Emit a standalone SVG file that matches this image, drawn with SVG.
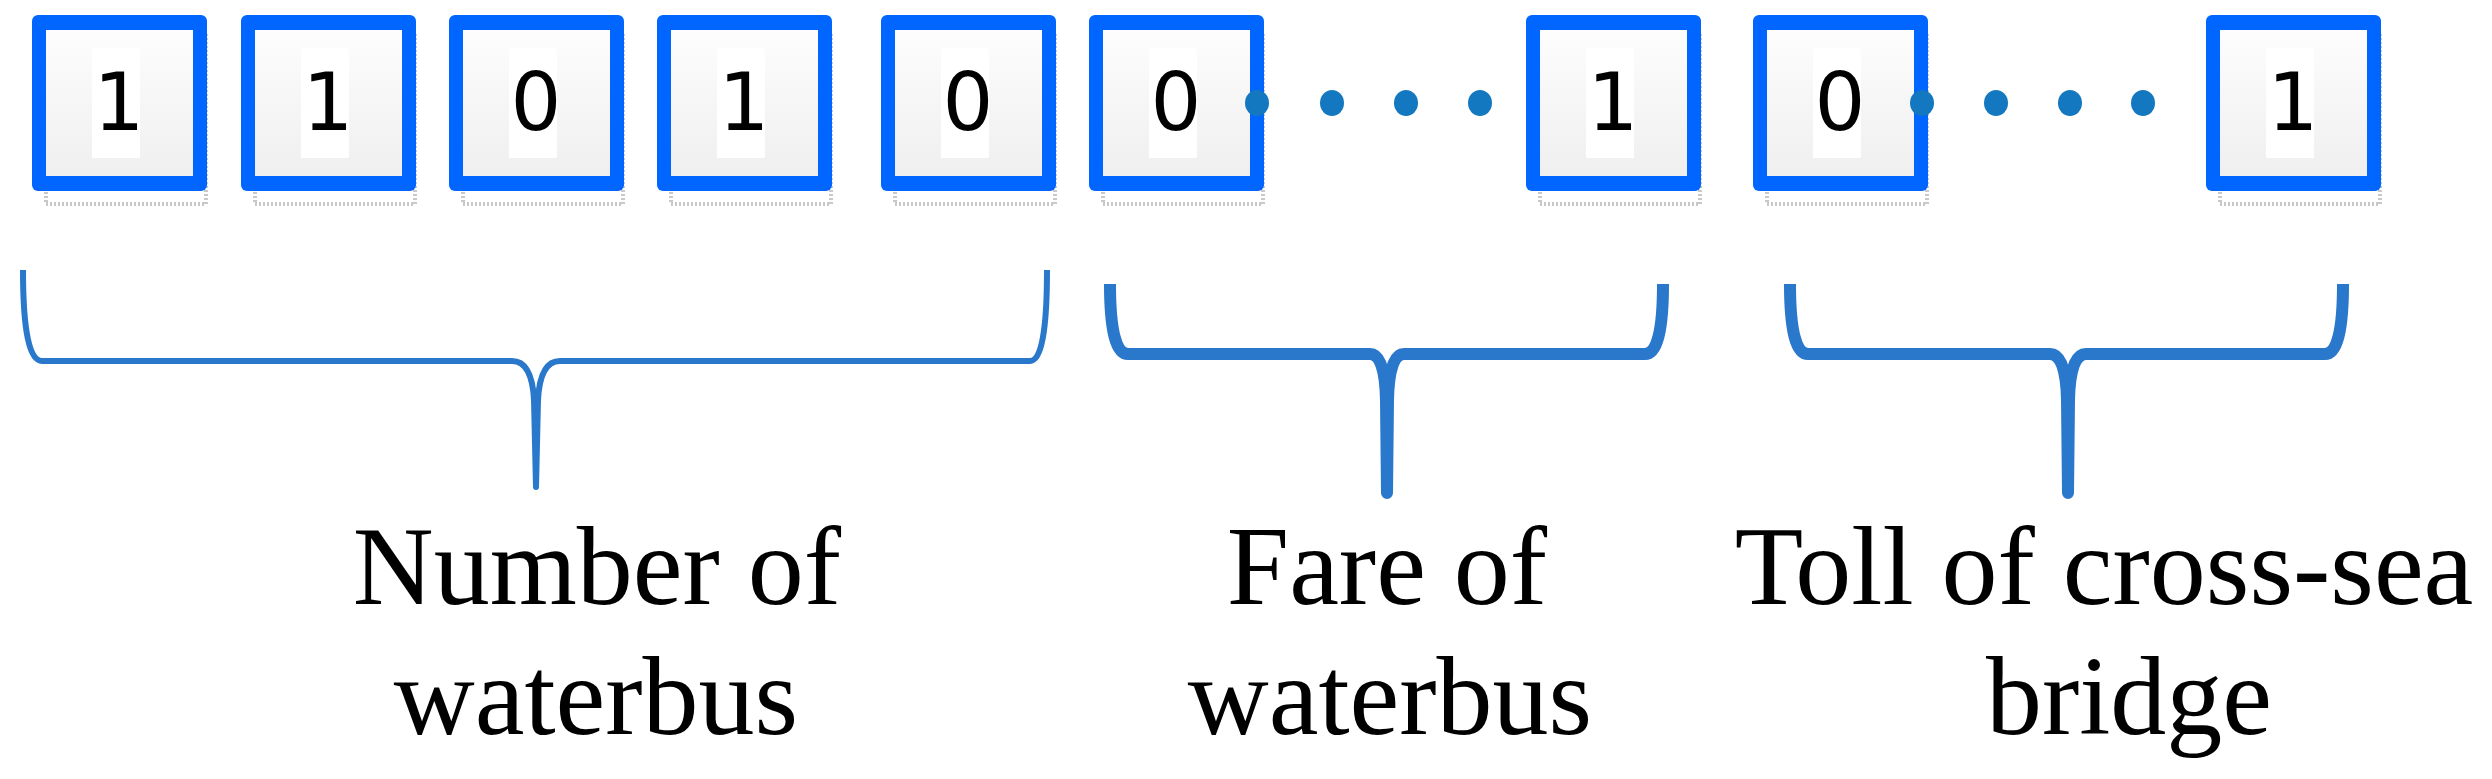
<svg xmlns="http://www.w3.org/2000/svg" width="2492" height="779" viewBox="0 0 2492 779">
<defs>
<linearGradient id="g" x1="0" y1="0" x2="0" y2="1"><stop offset="0" stop-color="#fdfdfd"/><stop offset="1" stop-color="#efefef"/></linearGradient>
<style>
.sh{fill:none;stroke:#c8c8c8;stroke-width:4;stroke-dasharray:2 2}
.ob{fill:#0066ff}
.in{fill:url(#g)}
.wb{fill:#fff}
.d{font-family:"DejaVu Sans",sans-serif;font-size:80px;fill:#000;text-anchor:middle}
.br{fill:none;stroke:#2a78cc;stroke-width:6;stroke-linejoin:round}
.dot{fill:#1478c0}
.lb{font-family:"Liberation Serif",serif;font-size:112px;fill:#000;text-anchor:middle}
</style>
</defs>
<g id="nodes">
<g id="b1" transform="translate(32,0)"><rect class="sh" x="14" y="34" width="160" height="170"/><rect class="ob" x="0" y="15" width="175" height="176" rx="6"/><rect class="in" x="14" y="30" width="147" height="146"/><rect class="wb" x="60" y="48" width="48" height="110"/><text class="d" x="87" y="130">1</text></g>
<g id="b2" transform="translate(241,0)"><rect class="sh" x="14" y="34" width="160" height="170"/><rect class="ob" x="0" y="15" width="175" height="176" rx="6"/><rect class="in" x="14" y="30" width="147" height="146"/><rect class="wb" x="60" y="48" width="48" height="110"/><text class="d" x="87" y="130">1</text></g>
<g id="b3" transform="translate(449,0)"><rect class="sh" x="14" y="34" width="160" height="170"/><rect class="ob" x="0" y="15" width="175" height="176" rx="6"/><rect class="in" x="14" y="30" width="147" height="146"/><rect class="wb" x="60" y="48" width="48" height="110"/><text class="d" x="87" y="130">0</text></g>
<g id="b4" transform="translate(657,0)"><rect class="sh" x="14" y="34" width="160" height="170"/><rect class="ob" x="0" y="15" width="175" height="176" rx="6"/><rect class="in" x="14" y="30" width="147" height="146"/><rect class="wb" x="60" y="48" width="48" height="110"/><text class="d" x="87" y="130">1</text></g>
<g id="b5" transform="translate(881,0)"><rect class="sh" x="14" y="34" width="160" height="170"/><rect class="ob" x="0" y="15" width="175" height="176" rx="6"/><rect class="in" x="14" y="30" width="147" height="146"/><rect class="wb" x="60" y="48" width="48" height="110"/><text class="d" x="87" y="130">0</text></g>
<g id="b6" transform="translate(1089,0)"><rect class="sh" x="14" y="34" width="160" height="170"/><rect class="ob" x="0" y="15" width="175" height="176" rx="6"/><rect class="in" x="14" y="30" width="147" height="146"/><rect class="wb" x="60" y="48" width="48" height="110"/><text class="d" x="87" y="130">0</text></g>
<g id="b7" transform="translate(1526,0)"><rect class="sh" x="14" y="34" width="160" height="170"/><rect class="ob" x="0" y="15" width="175" height="176" rx="6"/><rect class="in" x="14" y="30" width="147" height="146"/><rect class="wb" x="60" y="48" width="48" height="110"/><text class="d" x="87" y="130">1</text></g>
<g id="b8" transform="translate(1753,0)"><rect class="sh" x="14" y="34" width="160" height="170"/><rect class="ob" x="0" y="15" width="175" height="176" rx="6"/><rect class="in" x="14" y="30" width="147" height="146"/><rect class="wb" x="60" y="48" width="48" height="110"/><text class="d" x="87" y="130">0</text></g>
<g id="b9" transform="translate(2206,0)"><rect class="sh" x="14" y="34" width="160" height="170"/><rect class="ob" x="0" y="15" width="175" height="176" rx="6"/><rect class="in" x="14" y="30" width="147" height="146"/><rect class="wb" x="60" y="48" width="48" height="110"/><text class="d" x="87" y="130">1</text></g>
</g>
<g id="dots">
<ellipse class="dot" cx="1257" cy="103" rx="12" ry="13"/><ellipse class="dot" cx="1332" cy="103" rx="12" ry="13"/><ellipse class="dot" cx="1406" cy="103" rx="12" ry="13"/><ellipse class="dot" cx="1480" cy="103" rx="12" ry="13"/>
<ellipse class="dot" cx="1922" cy="103" rx="12" ry="13"/><ellipse class="dot" cx="1996" cy="103" rx="12" ry="13"/><ellipse class="dot" cx="2070" cy="103" rx="12" ry="13"/><ellipse class="dot" cx="2143" cy="103" rx="12" ry="13"/>
</g>
<g id="connectors">
<path class="br" d="M23 270 Q23 361 42 361 L512 361 Q532 361 534 400 L536 487 L538 400 Q540 361 560 361 L1030 361 Q1047 361 1047 270"/>
<path class="br" style="stroke-width:12" d="M1110 284 Q1110 354 1128 354 L1370 354 Q1385 354 1386 400 L1387 493 L1388 400 Q1389 354 1404 354 L1645 354 Q1663 354 1663 284"/>
<path class="br" style="stroke-width:12" d="M1790 284 Q1790 354 1808 354 L2050 354 Q2066 354 2067 400 L2068 493 L2069 400 Q2070 354 2086 354 L2325 354 Q2343 354 2343 284"/>
</g>
<g id="labels">
<text class="lb" x="597" y="604">Number of</text><text class="lb" x="596" y="734">waterbus</text>
<text class="lb" x="1387" y="604">Fare of</text><text class="lb" x="1390" y="734">waterbus</text>
<text class="lb" x="2104" y="604">Toll of cross-sea</text><text class="lb" x="2129" y="734">bridge</text>
</g>
</svg>
